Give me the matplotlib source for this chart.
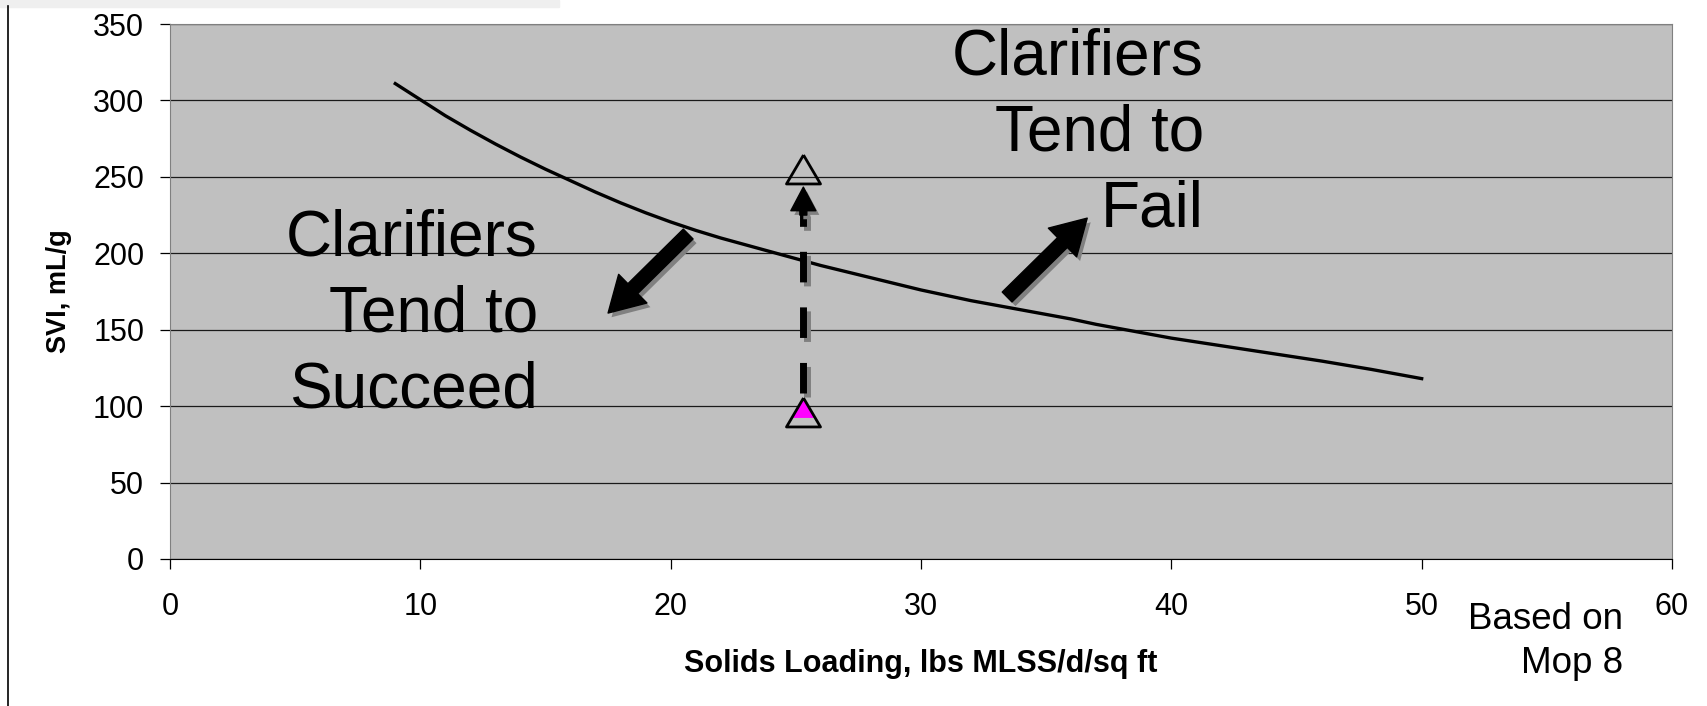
import matplotlib
matplotlib.use("Agg")
import matplotlib.pyplot as plt
import matplotlib.patheffects as pe
from matplotlib.patches import FancyArrowPatch, ArrowStyle, Rectangle
from matplotlib.lines import Line2D

plt.rcParams['font.family'] = ['Liberation Sans', 'DejaVu Sans']

# --- data ---
loading = [9, 10, 11, 12, 13, 14, 15, 16, 17, 18, 19, 20, 21, 22, 23, 24, 25, 26, 27, 28,
           29, 30, 31, 32, 33, 34, 35, 36, 37, 38, 39, 40, 42, 44, 46, 48, 50]
svi = [311, 300.5, 290, 280.5, 271.5, 263, 255, 247.5, 240, 233, 226.5, 220.5, 215, 210, 205.5,
       201, 196.5, 192, 188, 184, 180, 176, 172.5, 169, 166, 163, 160, 157, 153.5, 150.5,
       147.5, 144.5, 139.5, 134.5, 129.5, 124, 118]

plant_loading = [25.3]
svi_now = [96]        # magenta point
svi_high = [255]      # open triangle

x_ticks = [0, 10, 20, 30, 40, 50, 60]
y_ticks = [0, 50, 100, 150, 200, 250, 300, 350]

# annotation anchors (data coords): tail, tip
arrow_succeed = [(20.7, 212.6), (17.5, 160.9)]
arrow_fail = [(33.44, 171.4), (36.64, 223.0)]
dash_span = (108.6, 227.0)
head_span = (225.0, 243.3)

fig = plt.figure(figsize=(17.08, 7.06), dpi=100)
ax = fig.add_axes([170 / 1708, 1 - 559 / 706, 1502 / 1708, 535 / 706])
ax.set_facecolor('#c0c0c0')

# bits of slide furniture around the chart
fig.patches.append(Rectangle((0, 1 - 7 / 706), 559 / 1708, 7 / 706,
                             transform=fig.transFigure, color='#efefef', zorder=0))
fig.add_artist(Line2D([8 / 1708, 8 / 1708], [0, 1 - 6 / 706], color='black', lw=1.2))

ax.set_xlim(0, 60)
ax.set_ylim(0, 350)
ax.set_xticks(x_ticks)
ax.set_yticks(y_ticks)
ax.grid(axis='y', color='#1a1a1a', lw=0.9)
ax.set_axisbelow(True)
ax.tick_params(direction='out', length=7.5, width=0.9, labelsize=22, color='black')
ax.tick_params(axis='x', pad=16.5)
ax.tick_params(axis='y', pad=11)
for s in ['top', 'right', 'left']:
    ax.spines[s].set_color('#808080')
ax.spines['bottom'].set_color('black')

ax.set_xlabel('Solids Loading, lbs MLSS/d/sq ft', fontsize=22, fontweight='bold', labelpad=19)
ax.set_ylabel('SVI, mL/g', fontsize=19.5, fontweight='bold', labelpad=15)

# SVI limit curve
ax.plot(loading, svi, color='black', lw=2.4, zorder=3)

shadow_line = [pe.SimpleLineShadow(offset=(2.5, -3), shadow_color='0.5', alpha=1), pe.Normal()]
shadow_patch = [pe.SimplePatchShadow(offset=(2.5, -3), shadow_rgbFace='0.5', alpha=1), pe.Normal()]

# dashed shaft + head
ax.plot([plant_loading[0]] * 2, list(dash_span), color='black', lw=5,
        dashes=(4.4, 3.6), solid_capstyle='butt', dash_capstyle='butt',
        path_effects=shadow_line, zorder=4)
head = FancyArrowPatch((plant_loading[0], head_span[0]), (plant_loading[0], head_span[1]),
                       arrowstyle=ArrowStyle.Simple(head_length=1.7, head_width=1.8, tail_width=0.5),
                       mutation_scale=10, color='black', shrinkA=0, shrinkB=0,
                       path_effects=shadow_patch, zorder=4)
ax.add_patch(head)

for tail, tip in [arrow_succeed, arrow_fail]:
    arr = FancyArrowPatch(tail, tip,
                          arrowstyle=ArrowStyle.Simple(head_length=2.5, head_width=2.9, tail_width=1.0),
                          mutation_scale=10, color='black', shrinkA=0, shrinkB=0,
                          path_effects=shadow_patch, zorder=4)
    ax.add_patch(arr)

# markers
tri = [(0, 0.85), (-1, -0.85), (1, -0.85), (0, 0.85)]
tri_m = [(0, 0.85), (-0.69, -0.32), (0.69, -0.32), (0, 0.85)]
ax.plot(plant_loading, svi_now, ls='none', marker=tri_m, ms=24.5 * 0.85,
        mfc='#ff00ff', mec='none', zorder=5)
ax.plot(plant_loading, svi_now, ls='none', marker=tri, ms=24.5,
        mfc='none', mec='black', mew=2, zorder=6)
ax.plot(plant_loading, svi_high, ls='none', marker=tri, ms=24.5,
        mfc='none', mec='black', mew=2, zorder=6)

ax.text(14.7, 160.2, 'Clarifiers\nTend to\nSucceed', fontsize=46, ha='right', va='center',
        linespacing=1.34, zorder=7)
ax.text(41.3, 278.6, 'Clarifiers\nTend to\nFail', fontsize=46, ha='right', va='center',
        linespacing=1.34, zorder=7)
ax.text(58.05, -54, 'Based on\nMop 8', fontsize=26.5, ha='right', va='center',
        linespacing=1.33, clip_on=False)

fig.savefig('out.png', dpi=100)
